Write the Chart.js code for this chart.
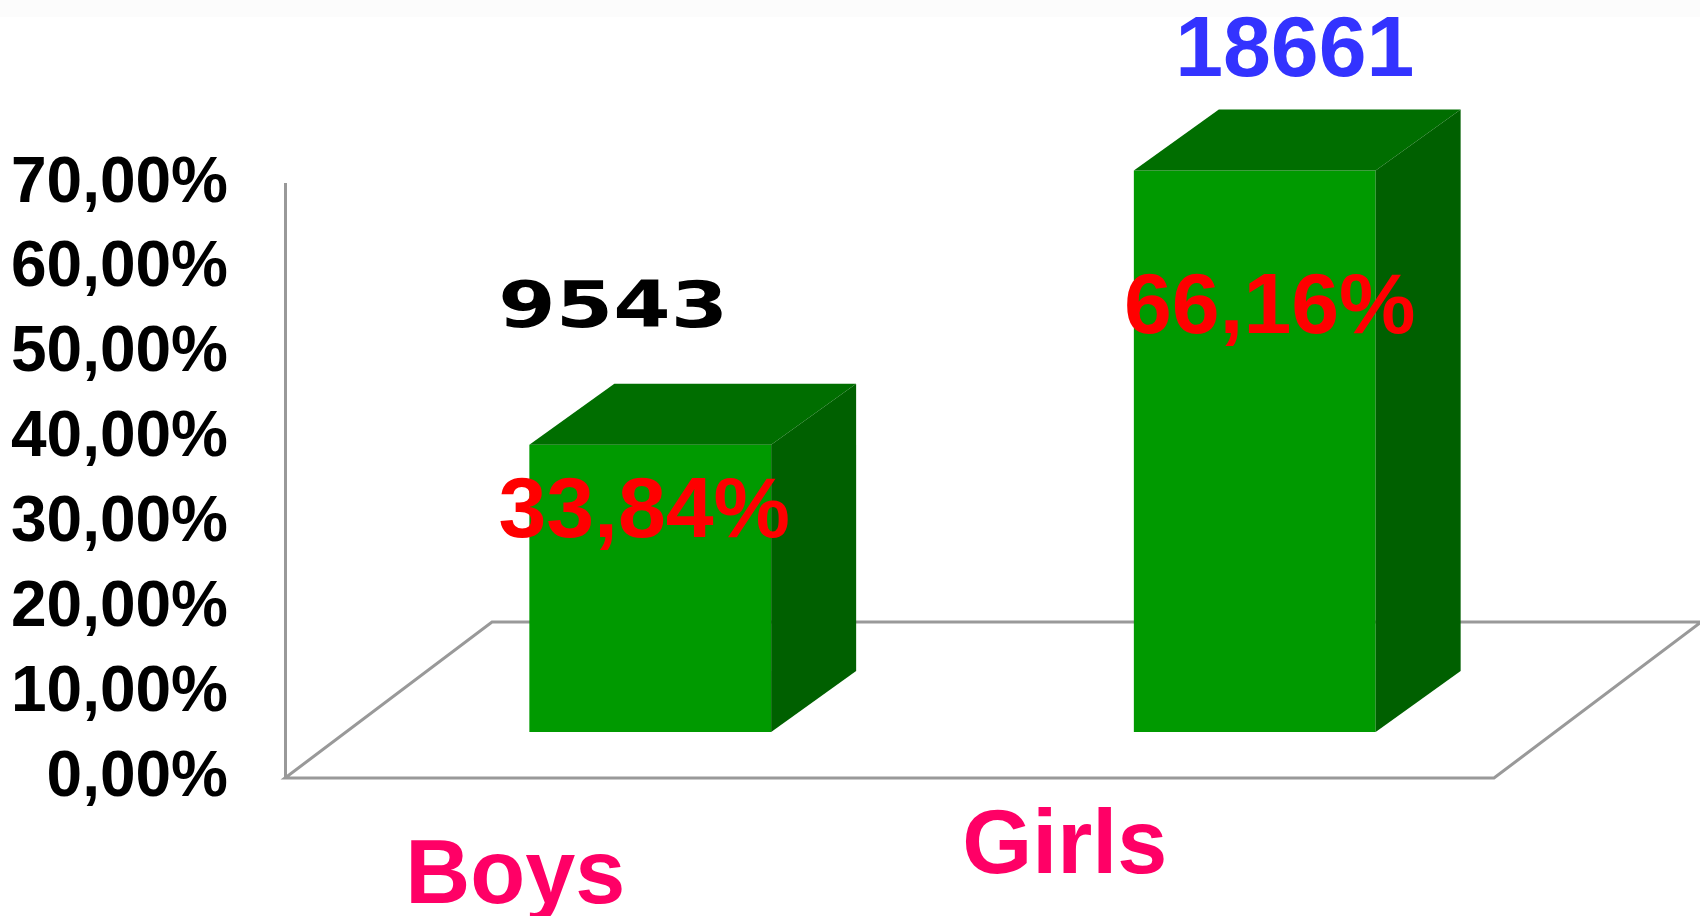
<!DOCTYPE html>
<html>
<head>
<meta charset="utf-8">
<script src="https://cdn.jsdelivr.net/npm/chart.js@4/dist/chart.umd.min.js"></script>
<style>
  html, body { margin: 0; padding: 0; background: #fff; }
  canvas { display: block; }
</style>
</head>
<body>
<canvas id="genderChart" width="1700" height="916"></canvas>
<script>
// data
const categories = ["Boys", "Girls"];
const shares = [33.84, 66.16];
const counts = [9543, 18661];
const yTicks = [0, 10, 20, 30, 40, 50, 60, 70];

const ARIAL = "Arial, 'Liberation Sans', sans-serif";
const fmtPct = (v) => v.toFixed(2).replace(".", ",") + "%";

// fake 3d: floor depth, bar depth, shift of the bars into the floor
const FLOOR = { dx: 207, dy: -156 };
const DEPTH = { dx: 85, dy: -61 };
const SHIFT = { dx: 63, dy: -46 };

const box3d = {
  id: "box3d",
  beforeDraw(chart) {
    const { ctx, width, height } = chart;
    ctx.save();
    ctx.fillStyle = "#fff";
    ctx.fillRect(0, 0, width, height);
    ctx.fillStyle = "#fcfcfc";
    ctx.fillRect(0, 0, width, 17);
    ctx.restore();
  },
  beforeDatasetsDraw(chart) {
    const { ctx, chartArea: a } = chart;
    ctx.save();
    ctx.strokeStyle = "#999";
    ctx.lineWidth = 3;
    ctx.beginPath();
    ctx.moveTo(a.left, a.bottom);
    ctx.lineTo(a.right, a.bottom);
    ctx.lineTo(a.right + FLOOR.dx, a.bottom + FLOOR.dy);
    ctx.lineTo(a.left + FLOOR.dx, a.bottom + FLOOR.dy);
    ctx.closePath();
    ctx.stroke();
    ctx.restore();

    ctx.save();
    ctx.translate(SHIFT.dx, SHIFT.dy);
  },
  afterDatasetsDraw(chart) {
    const { ctx } = chart;
    chart.getDatasetMeta(0).data.forEach((bar) => {
      const x0 = bar.x - bar.width / 2;
      const x1 = bar.x + bar.width / 2;
      const top = bar.y;
      const base = bar.base;
      // top face
      ctx.fillStyle = "#006e00";
      ctx.beginPath();
      ctx.moveTo(x0, top);
      ctx.lineTo(x0 + DEPTH.dx, top + DEPTH.dy);
      ctx.lineTo(x1 + DEPTH.dx, top + DEPTH.dy);
      ctx.lineTo(x1, top);
      ctx.closePath();
      ctx.fill();
      // side face
      ctx.fillStyle = "#006000";
      ctx.beginPath();
      ctx.moveTo(x1, top);
      ctx.lineTo(x1 + DEPTH.dx, top + DEPTH.dy);
      ctx.lineTo(x1 + DEPTH.dx, base + DEPTH.dy);
      ctx.lineTo(x1, base);
      ctx.closePath();
      ctx.fill();
    });
    ctx.restore();
  },
  afterDraw(chart) {
    const { ctx, chartArea: a } = chart;
    const xs = chart.scales.x;
    ctx.save();
    ctx.textAlign = "center";
    ctx.textBaseline = "alphabetic";

    // category names
    const catDx = [-72, -127];
    const catDy = [125, 95];
    ctx.fillStyle = "#ff0066";
    ctx.font = "bold 90px " + ARIAL;
    categories.forEach((c, i) => {
      ctx.fillText(c, xs.getPixelForValue(i) + catDx[i], a.bottom + catDy[i]);
    });

    // counts
    const cntDx = [26, 103];
    const cntY = [327, 76];
    counts.forEach((n, i) => {
      const cx = xs.getPixelForValue(i) + cntDx[i];
      ctx.save();
      if (i === 0) {
        ctx.fillStyle = "#000";
        ctx.font = "bold 64px 'DejaVu Sans', Verdana, sans-serif";
        ctx.translate(cx, cntY[i]);
        ctx.scale(1.29, 1);
        ctx.fillText(String(n), 0, 0);
      } else {
        ctx.fillStyle = "#3333ff";
        ctx.font = "bold 86px " + ARIAL;
        ctx.fillText(String(n), cx, cntY[i]);
      }
      ctx.restore();
    });

    // percentages
    const pctDx = [57, 78];
    const pctY = [537, 333];
    ctx.fillStyle = "#ff0000";
    ctx.font = "bold 86px " + ARIAL;
    shares.forEach((v, i) => {
      ctx.fillText(fmtPct(v), xs.getPixelForValue(i) + pctDx[i], pctY[i]);
    });
    ctx.restore();
  }
};

new Chart(document.getElementById("genderChart"), {
  type: "bar",
  data: {
    labels: categories,
    datasets: [
      {
        data: shares,
        backgroundColor: "#009a00",
        borderWidth: 0,
        categoryPercentage: 1,
        barPercentage: 0.4,
        clip: false
      }
    ]
  },
  options: {
    responsive: false,
    animation: false,
    layout: { padding: { left: 0, top: 184, right: 206, bottom: 138 } },
    plugins: {
      legend: { display: false },
      tooltip: { enabled: false }
    },
    scales: {
      x: { display: false },
      y: {
        min: 0,
        max: 70,
        afterBuildTicks: (s) => { s.ticks = yTicks.map((v) => ({ value: v })); },
        afterFit: (s) => { s.width = 285; },
        grid: { display: false, drawTicks: false },
        border: { display: true, color: "#999", width: 3 },
        ticks: {
          color: "#000",
          padding: 57,
          font: { family: ARIAL, size: 64, weight: "bold" },
          callback: (v) => fmtPct(v)
        }
      }
    }
  },
  plugins: [box3d]
});
</script>
</body>
</html>
